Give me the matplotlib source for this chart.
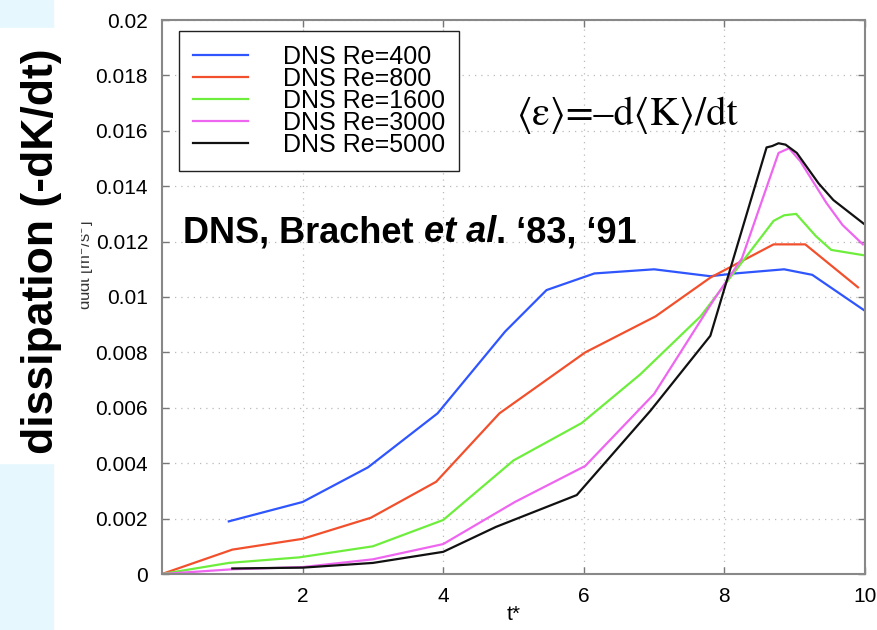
"""DNS dissipation curves (Brachet et al. '83, '91), redrawn."""

import matplotlib
matplotlib.use("Agg")
import matplotlib.pyplot as plt
from matplotlib.patches import Rectangle

plt.rcParams["font.family"] = ["Liberation Sans", "DejaVu Sans"]

# ---- data ----
T_400 = [0.95, 2.0, 2.93, 3.92, 4.88, 5.47, 6.15, 7.0, 7.8, 8.15, 8.85, 9.25, 10.0]
E_400 = [0.0019, 0.0026, 0.00385, 0.0058, 0.00875, 0.01025, 0.01085, 0.0110,
         0.01075, 0.01085, 0.0110, 0.0108, 0.0095]

T_800 = [0, 1.0, 2.0, 2.97, 3.9, 4.8, 6.02, 7.02, 7.8, 8.7, 9.15, 9.9]
E_800 = [0, 0.00088, 0.00127, 0.00203, 0.00333, 0.0058, 0.008, 0.0093,
         0.0107, 0.0119, 0.0119, 0.01035]

T_1600 = [0, 0.95, 1.95, 3.0, 4.0, 5.0, 5.97, 6.8, 7.66, 8.7, 8.85, 9.02,
          9.3, 9.52, 10.0]
E_1600 = [0, 0.0004, 0.0006, 0.001, 0.00195, 0.0041, 0.00545, 0.0072, 0.0093,
          0.01275, 0.01295, 0.013, 0.0122, 0.0117, 0.0115]

T_3000 = [0, 1.0, 2.0, 3.0, 4.0, 5.02, 6.02, 7.0, 7.85, 8.25, 8.77, 8.92,
          9.08, 9.45, 9.68, 9.97]
E_3000 = [0, 0.00017, 0.00025, 0.00053, 0.00108, 0.0026, 0.0039, 0.0065,
          0.0099, 0.0114, 0.0152, 0.01537, 0.0149, 0.0134, 0.0126, 0.0119]

T_5000 = [1.0, 2.0, 3.0, 4.0, 4.75, 5.9, 6.95, 7.8, 8.6, 8.68, 8.77, 8.87,
          9.03, 9.34, 9.55, 9.98]
E_5000 = [0.0002, 0.00023, 0.0004, 0.0008, 0.0017, 0.00285, 0.0059, 0.0086,
          0.0154, 0.01545, 0.01555, 0.0155, 0.0152, 0.0141, 0.0135, 0.01265]

LABELS = ["DNS Re=400", "DNS Re=800", "DNS Re=1600", "DNS Re=3000", "DNS Re=5000"]
COLORS = ["#2f55ff", "#f2502c", "#6eee3c", "#ee66f0", "#111111"]

X_TICKS = [2, 4, 6, 8, 10]
Y_TICKS = [0, 0.002, 0.004, 0.006, 0.008, 0.01, 0.012, 0.014, 0.016, 0.018, 0.02]
Y_TICK_LABELS = ["0", "0.002", "0.004", "0.006", "0.008", "0.01",
                 "0.012", "0.014", "0.016", "0.018", "0.02"]

W, H = 878, 630
fig = plt.figure(figsize=(W / 100, H / 100), dpi=100)

# light blue strip at the left, cut out behind the big label
strip = "#e6f8fd"
fig.patches.append(Rectangle((0, 1 - 28 / H), 53 / W, 28 / H, transform=fig.transFigure,
                             color=strip, zorder=0))
fig.patches.append(Rectangle((0, 0), 53 / W, 1 - 463 / H, transform=fig.transFigure,
                             color=strip, zorder=0))

ax = fig.add_axes([162 / W, 1 - 574 / H, 703 / W, 554 / H])
series = [(T_400, E_400), (T_800, E_800), (T_1600, E_1600), (T_3000, E_3000), (T_5000, E_5000)]
for (t, e), lab, c in zip(series, LABELS, COLORS):
    ax.plot(t, e, color=c, lw=1.6, label=lab)

ax.set_xlim(0, 10)
ax.set_ylim(0, 0.02)
ax.set_xticks(X_TICKS)
ax.set_yticks(Y_TICKS)
ax.set_yticklabels(Y_TICK_LABELS)
ax.tick_params(direction="in", length=5, width=1, color="#777777", labelsize=15,
               top=True, right=True)
ax.tick_params(axis="y", pad=10)
ax.tick_params(axis="x", pad=9)
ax.grid(True, ls=(0, (1, 4)), color="#bbbbbb", lw=0.9)
for s in ax.spines.values():
    s.set_color("#888888")
    s.set_linewidth(1.5)
ax.set_xlabel("t*", fontsize=15, labelpad=0)

leg = ax.legend(loc="upper left", bbox_to_anchor=(179 / W, 1 - 31 / H),
                bbox_transform=fig.transFigure, borderaxespad=0, fontsize=18,
                fancybox=False, framealpha=1, edgecolor="#222222",
                handlelength=2.2, handletextpad=1.4, labelspacing=-0.08,
                borderpad=0.55)
leg.get_frame().set_linewidth(1.0)

# original (mostly hidden) axis label
fig.text(84 / W, 1 - 265 / H, "dudt [m$^2$/s$^3$]", rotation=90, fontsize=12,
         ha="center", va="center", color="#333333", zorder=1)
fig.patches.append(Rectangle((0, 1 - 463 / H), 80 / W, (463 - 28) / H,
                             transform=fig.transFigure, color="white", zorder=2))

fig.text(42 / W, 1 - 251 / H, "dissipation (-dK/dt)", rotation=90, fontsize=32,
         fontweight="bold", ha="center", va="center", zorder=5)

# "DNS, Brachet et al. '83, '91" with the italic part, laid out piece by piece
renderer = fig.canvas.get_renderer()
x_px, y_base = 183, 1 - 242 / H
for piece, style in [("DNS, Brachet ", "normal"), ("et al", "italic"),
                     (". \u201883, \u201891", "normal")]:
    txt = fig.text(x_px / W, y_base, piece, fontsize=26, fontweight="bold",
                   fontstyle=style, ha="left", va="baseline")
    x_px += txt.get_window_extent(renderer).width

fig.text(517 / W, 1 - 125 / H, "\u27e8\u03b5\u27e9=\u2013d\u27e8K\u27e9/dt",
         fontsize=29, family=["STIXGeneral", "DejaVu Serif"], ha="left", va="baseline")

fig.savefig("out.png", dpi=100)
